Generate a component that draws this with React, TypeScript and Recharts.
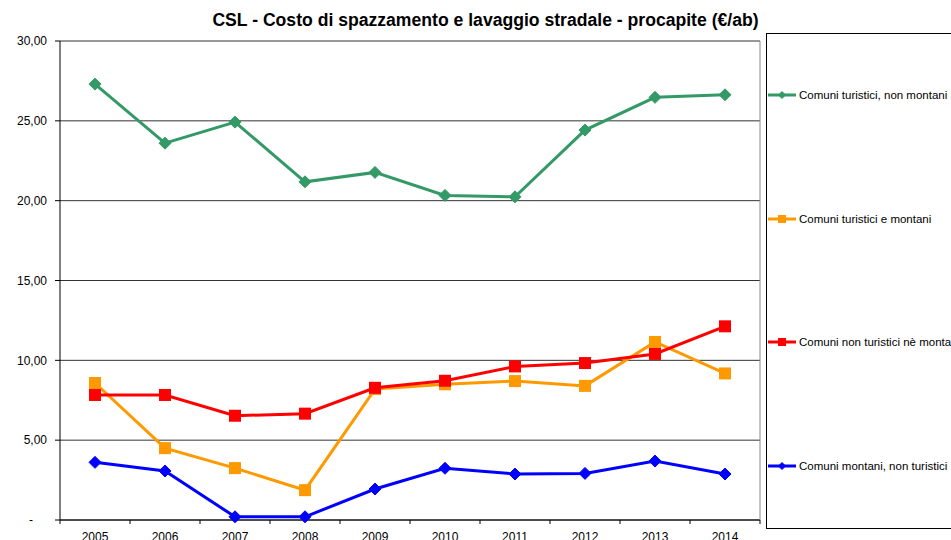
import React from "react";
import { LineChart, Line, XAxis, YAxis, CartesianGrid } from "recharts";

const years = ["2005", "2006", "2007", "2008", "2009", "2010", "2011", "2012", "2013", "2014"];
const turisticiNonMontani = [27.3, 23.6, 24.92, 21.18, 21.77, 20.33, 20.24, 24.42, 26.47, 26.63];
const turisticiMontani = [8.58, 4.5, 3.25, 1.87, 8.2, 8.5, 8.7, 8.4, 11.15, 9.18];
const nonTuristiciNeMontani = [7.83, 7.83, 6.53, 6.66, 8.28, 8.72, 9.62, 9.83, 10.4, 12.13];
const montaniNonTuristici = [3.61, 3.07, 0.2, 0.2, 1.94, 3.24, 2.88, 2.92, 3.69, 2.88];
const yTicks = [0, 5, 10, 15, 20, 25, 30];

const W = 951;
const H = 540;
const PLOT_LEFT = 60;
const PLOT_RIGHT = 760;
const HALF_BAND = (PLOT_RIGHT - PLOT_LEFT) / years.length / 2;
const FONT = "'Liberation Sans', Arial, sans-serif";

type Marker = "diamond" | "square";

const series: { key: string; name: string; color: string; marker: Marker; legendY: number }[] = [
  { key: "tnm", name: "Comuni turistici, non montani", color: "#339966", marker: "diamond", legendY: 95 },
  { key: "tm", name: "Comuni turistici e montani", color: "#FF9900", marker: "square", legendY: 219 },
  { key: "ntnm", name: "Comuni non turistici nè montani", color: "#FF0000", marker: "square", legendY: 342 },
  { key: "mnt", name: "Comuni montani, non turistici", color: "#0000FF", marker: "diamond", legendY: 466 },
];

const rows = years.map((year, i) => ({
  year,
  tnm: turisticiNonMontani[i],
  tm: turisticiMontani[i],
  ntnm: nonTuristiciNeMontani[i],
  mnt: montaniNonTuristici[i],
}));

function markerShape(kind: Marker, cx: number, cy: number, size: number, color: string, key?: string) {
  if (kind === "diamond") {
    const r = size / 2;
    return (
      <path
        key={key}
        d={`M${cx},${cy - r}L${cx + r},${cy}L${cx},${cy + r}L${cx - r},${cy}Z`}
        fill={color}
        stroke={color}
      />
    );
  }
  return <rect key={key} x={cx - size / 2} y={cy - size / 2} width={size} height={size} fill={color} />;
}

function makeDot(kind: Marker, color: string, size: number) {
  return (props: any) => {
    const { cx, cy, index } = props;
    if (cx == null || cy == null) return <g key={`e${index}`} />;
    return markerShape(kind, cx, cy, size, color, `d${index}`);
  };
}

function XTick(props: any) {
  const { x, y, payload, index } = props;
  return (
    <g>
      <line x1={x - HALF_BAND} y1={y} x2={x - HALF_BAND} y2={y + 4} stroke="#000" />
      {index === years.length - 1 && (
        <line x1={x + HALF_BAND} y1={y} x2={x + HALF_BAND} y2={y + 4} stroke="#000" />
      )}
      <text x={x} y={y + 12} dy="0.71em" textAnchor="middle" fontSize={12} fontFamily={FONT} fill="#000">
        {payload.value}
      </text>
    </g>
  );
}

function YTick(props: any) {
  const { x, y, payload } = props;
  const v = payload.value as number;
  const label = v === 0 ? "-" : v.toFixed(2).replace(".", ",");
  return (
    <text
      x={v === 0 ? x - 14 : x}
      y={y}
      dy="0.355em"
      textAnchor="end"
      fontSize={12}
      fontFamily={FONT}
      fill="#000"
    >
      {label}
    </text>
  );
}

export default function App() {
  return (
    <div
      style={{
        position: "absolute",
        left: 0,
        top: 0,
        width: W,
        height: H,
        overflow: "hidden",
        background: "#fff",
        fontFamily: FONT,
      }}
    >
      <div
        style={{
          position: "absolute",
          left: 0,
          width: 971,
          top: 10,
          textAlign: "center",
          fontSize: 17.6,
          fontWeight: "bold",
          color: "#000",
          whiteSpace: "nowrap",
        }}
      >
        CSL - Costo di spazzamento e lavaggio stradale - procapite (€/ab)
      </div>

      <div style={{ position: "absolute", left: 0, top: 0 }}>
        <LineChart
          width={W}
          height={H}
          data={rows}
          margin={{ top: 41, right: W - PLOT_RIGHT - 1, bottom: 0, left: 0 }}
        >
          <CartesianGrid vertical={false} stroke="#333" />
          <XAxis
            dataKey="year"
            scale="band"
            height={20}
            tickSize={0}
            tickMargin={0}
            tickLine={false}
            axisLine={{ stroke: "#000" }}
            tick={<XTick />}
            interval={0}
          />
          <YAxis
            width={PLOT_LEFT}
            domain={[0, 30]}
            ticks={yTicks}
            tickSize={5}
            tickMargin={8}
            tickLine={{ stroke: "#000" }}
            axisLine={{ stroke: "#000" }}
            tick={<YTick />}
            interval={0}
          />
          <YAxis
            yAxisId="r"
            orientation="right"
            width={1}
            domain={[0, 30]}
            tick={false}
            tickLine={false}
            axisLine={{ stroke: "#888" }}
          />
          {series.map((s) => (
            <Line
              key={s.key}
              dataKey={s.key}
              name={s.name}
              stroke={s.color}
              strokeWidth={3}
              isAnimationActive={false}
              dot={makeDot(s.marker, s.color, 12)}
              activeDot={false}
            />
          ))}
        </LineChart>
      </div>

      <div
        style={{
          position: "absolute",
          left: 766,
          top: 33,
          width: 260,
          height: 496,
          border: "1px solid #000",
          boxSizing: "border-box",
        }}
      />
      {series.map((s) => (
        <div
          key={s.key}
          style={{
            position: "absolute",
            left: 768,
            top: s.legendY - 8,
            height: 16,
            display: "flex",
            alignItems: "center",
            whiteSpace: "nowrap",
            fontSize: 11.5,
            color: "#000",
          }}
        >
          <svg width={30} height={16} style={{ display: "block" }}>
            <line x1={0} y1={8} x2={28} y2={8} stroke={s.color} strokeWidth={3} />
            {markerShape(s.marker, 14, 8, s.marker === "diamond" ? 7 : 8, s.color)}
          </svg>
          <span style={{ marginLeft: 1 }}>{s.name}</span>
        </div>
      ))}
    </div>
  );
}
